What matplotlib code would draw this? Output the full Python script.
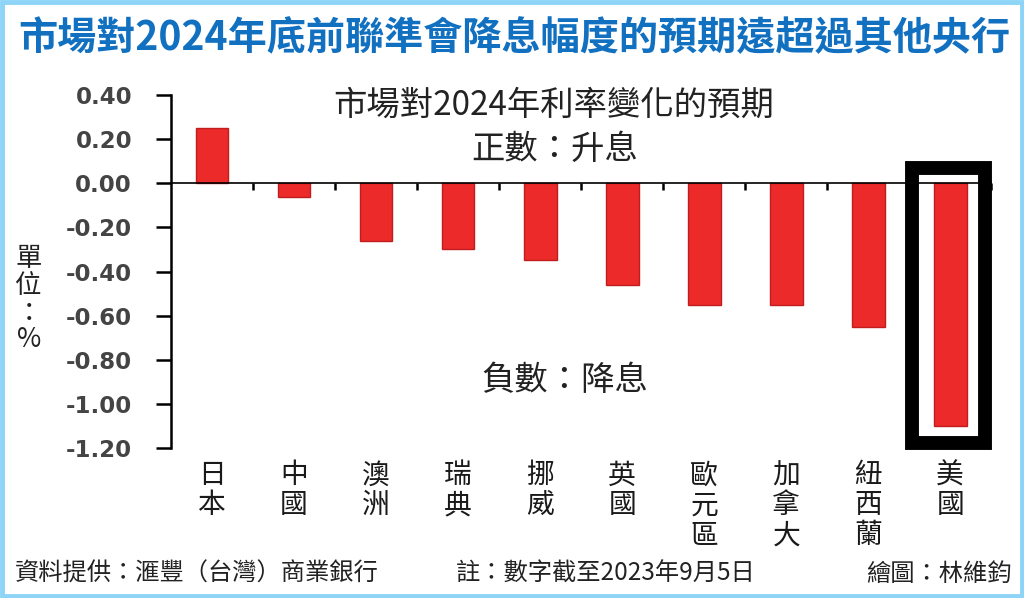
import numpy as np
import matplotlib.pyplot as plt
from matplotlib.patches import Rectangle

plt.rcParams['font.family'] = ['Noto Sans CJK TC', 'DejaVu Sans']

# --------------------------------------------------------------------------
# Data
countries = ['日本', '中國', '澳洲', '瑞典', '挪威', '英國', '歐元區', '加拿大', '紐西蘭', '美國']
changes = [0.25, -0.06, -0.26, -0.30, -0.35, -0.46, -0.55, -0.55, -0.65, -1.10]
yticks = [0.40, 0.20, 0.00, -0.20, -0.40, -0.60, -0.80, -1.00, -1.20]
highlight = '美國'

title = '市場對2024年底前聯準會降息幅度的預期遠超過其他央行'
subtitle = '市場對2024年利率變化的預期'
source = '資料提供：滙豐（台灣）商業銀行'
note = '註：數字截至2023年9月5日'
credit = '繪圖：林維鈞'

# --------------------------------------------------------------------------
# Figure
fig = plt.figure(figsize=(10.24, 5.98), dpi=100)
ax = fig.add_axes([0.167, 0.2508, 0.801, 0.5903])

x = np.arange(len(countries))
ax.bar(x, changes, width=0.4, color='#ec2a2a', edgecolor='#c01e1e', linewidth=1.0, zorder=2)

ax.set_xlim(-0.5, len(countries) - 0.5)
ax.set_ylim(-1.2, 0.4)

# axes look
for s in ['top', 'right']:
    ax.spines[s].set_visible(False)
ax.spines['left'].set_linewidth(1.8)
ax.spines['bottom'].set_position(('data', 0))
ax.spines['bottom'].set_linewidth(1.2)

ax.set_yticks(yticks)
ax.set_yticklabels([f'{v:.2f}' for v in yticks], fontfamily='DejaVu Sans',
                   fontweight='bold', fontsize=16.5, color='#444444')
ax.tick_params(axis='y', direction='out', length=11, width=1.8, pad=17)

ax.set_xticks(x)
ax.set_xticklabels([])
ax.tick_params(axis='x', which='major', length=0)
ax.set_xticks(np.arange(0.5, len(countries), 1.0), minor=True)
ax.tick_params(axis='x', which='minor', direction='out', length=5, width=1.8)

# category labels, written vertically
for i, name in enumerate(countries):
    ax.text(i, -0.035, '\n'.join(name), transform=ax.get_xaxis_transform(),
            ha='center', va='top', fontsize=20, linespacing=1.0, color='#1a1a1a')

# highlight box round the US bar
hi = countries.index(highlight)
ax.add_patch(Rectangle((hi - 0.46, -1.175), 0.89, 1.245, fill=False,
                       edgecolor='black', linewidth=10, joinstyle='miter',
                       clip_on=False, zorder=3))

# in-chart texts
ax.text(0.466, 0.97, subtitle, transform=ax.transAxes, ha='center', va='center',
        fontsize=24, color='#222222')
ax.text(0.468, 0.845, '正數：升息', transform=ax.transAxes, ha='center', va='center',
        fontsize=24, color='#222222')
ax.text(0.48, 0.19, '負數：降息', transform=ax.transAxes, ha='center', va='center',
        fontsize=24, color='#222222')

# unit label
fig.text(0.028, 0.50, '單\n位\n：\n%', ha='center', va='center', fontsize=19,
         linespacing=1.0, color='#222222')

# main title
fig.text(0.502, 0.935, title, ha='center', va='center', fontsize=28.2,
         fontweight='bold', color='#1170c0')

# footer
fig.text(0.015, 0.04, source, ha='left', va='center', fontsize=17.5, color='#222222')
fig.text(0.445, 0.04, note, ha='left', va='center', fontsize=17.5, color='#222222')
fig.text(0.988, 0.04, credit, ha='right', va='center', fontsize=17.5, color='#222222')

# light blue frame
fig.add_artist(Rectangle((0.002, 0.003), 0.996, 0.994, transform=fig.transFigure,
                         fill=False, edgecolor='#8dd4f6', linewidth=3.5))

fig.savefig('out.png', dpi=100)
